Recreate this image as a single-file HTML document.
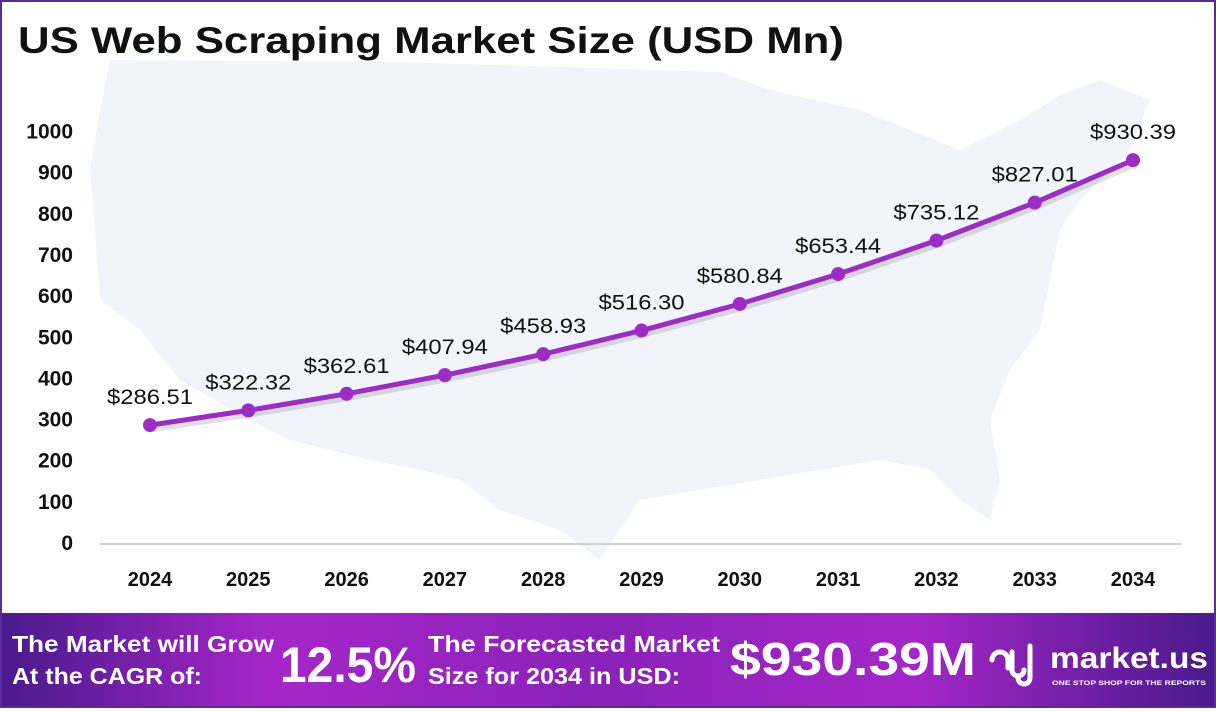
<!DOCTYPE html>
<html><head><meta charset="utf-8"><style>
body{margin:0;width:1216px;height:708px;overflow:hidden;background:#fff;font-family:"Liberation Sans",sans-serif}
</style></head><body>
<svg id="chart" width="1216" height="708" xmlns="http://www.w3.org/2000/svg">
<defs>
<linearGradient id="foot" x1="0" x2="1" y1="0" y2="0">
<stop offset="0" stop-color="#4a1a8c"/><stop offset="0.22" stop-color="#a526c8"/><stop offset="0.5" stop-color="#8a22b8"/><stop offset="0.75" stop-color="#a526c8"/><stop offset="1" stop-color="#4a1a8c"/>
</linearGradient>
</defs>
<rect x="1" y="1" width="1214" height="706" fill="#fff" stroke="#5a2a9a" stroke-width="2"/>
<path fill="#f1f5fb" d="M110,60 L400,62 L720,72 L770,90 L860,110 L910,130 L960,150 L1020,120 L1060,95 L1100,80 L1150,100 L1130,150 L1080,200 L1060,230 L1050,280 L1040,330 L1010,370 L990,420 L1000,480 L990,520 L960,500 L930,470 L880,460 L820,470 L760,480 L700,490 L640,500 L600,560 L560,530 L500,510 L460,480 L420,470 L370,460 L330,450 L290,440 L250,420 L180,380 L140,330 L100,300 L95,230 L90,170 L100,110 Z"/>
<text x="18" y="53" font-size="37" font-weight="bold" fill="#111" textLength="826" lengthAdjust="spacingAndGlyphs">US Web Scraping Market Size (USD Mn)</text>
<g id="yaxis"></g><g id="xaxis"></g>
<line x1="100" x2="1182" y1="544" y2="544" stroke="#d0d0d0" stroke-width="2"/>
<g id="series"></g>
<rect x="2" y="613" width="1212" height="93" fill="url(#foot)"/>
<g fill="#fff" font-weight="bold">
<text x="12" y="652" font-size="23" textLength="262" lengthAdjust="spacingAndGlyphs">The Market will Grow</text>
<text x="12" y="684" font-size="23" textLength="190" lengthAdjust="spacingAndGlyphs">At the CAGR of:</text>
<text x="280" y="682" font-size="50" textLength="136" lengthAdjust="spacingAndGlyphs">12.5%</text>
<text x="428" y="652" font-size="23" textLength="292" lengthAdjust="spacingAndGlyphs">The Forecasted Market</text>
<text x="428" y="684" font-size="23" textLength="252" lengthAdjust="spacingAndGlyphs">Size for 2034 in USD:</text>
<text x="730" y="675" font-size="46" textLength="246" lengthAdjust="spacingAndGlyphs">$930.39M</text>
<text x="1050" y="668" font-size="30" textLength="158" lengthAdjust="spacingAndGlyphs">market.us</text>
<text x="1052" y="685" font-size="6.5" textLength="154" lengthAdjust="spacingAndGlyphs">ONE STOP SHOP FOR THE REPORTS</text>
</g>
<g fill="none" stroke="#fff" stroke-width="5" stroke-linecap="round">
<path d="M992,660 a8,8 0 0 1 16,0 v8 M1012,652 v18 a6,6 0 0 0 12,0 M1030,646 v32 a6,6 0 0 1 -12,0"/>
</g>
</svg>
<script>
const categories=["2024","2025","2026","2027","2028","2029","2030","2031","2032","2033","2034"];
const values=[286.51,322.32,362.61,407.94,458.93,516.30,580.84,653.44,735.12,827.01,930.39];
const valueLabels=["$286.51","$322.32","$362.61","$407.94","$458.93","$516.30","$580.84","$653.44","$735.12","$827.01","$930.39"];
const yTicks=[0,100,200,300,400,500,600,700,800,900,1000];
const NS="http://www.w3.org/2000/svg";
function y(v){return 543-v*0.4115;}
function x(i){return 150+i*98.3;}
function mk(tag,attrs,parent,text){const e=document.createElementNS(NS,tag);for(const k in attrs)e.setAttribute(k,attrs[k]);if(text!==undefined)e.textContent=text;parent.appendChild(e);return e;}
const ya=document.getElementById('yaxis'),xa=document.getElementById('xaxis'),s=document.getElementById('series');
yTicks.forEach(t=>{const e=mk('text',{x:73,y:y(t)+7,'text-anchor':'end','font-size':21,'font-weight':'bold',fill:'#111'},ya,String(t));

});
categories.forEach((c,i)=>{const e=mk('text',{x:x(i),y:586,'text-anchor':'middle','font-size':20,'font-weight':'bold',fill:'#111'},xa,c);

});
const pts=values.map((v,i)=>x(i)+','+y(v)).join(' ');
const sh=mk('polyline',{points:values.map((v,i)=>x(i)+2+','+(y(v)+4)).join(' '),fill:'none',stroke:'rgba(0,0,0,0.12)','stroke-width':6},s);


const ln=mk('polyline',{points:pts,fill:'none',stroke:'#9b2cc4','stroke-width':5,'stroke-linejoin':'round'},s);


values.forEach((v,i)=>{const c=mk('circle',{cx:x(i),cy:y(v),r:7,fill:'#9b2cc4'},s);


const t=mk('text',{x:x(i),y:y(v)-21,'text-anchor':'middle','font-size':21,fill:'#111',textLength:86,lengthAdjust:'spacingAndGlyphs'},s,valueLabels[i]);

});
</script>
</body></html>
